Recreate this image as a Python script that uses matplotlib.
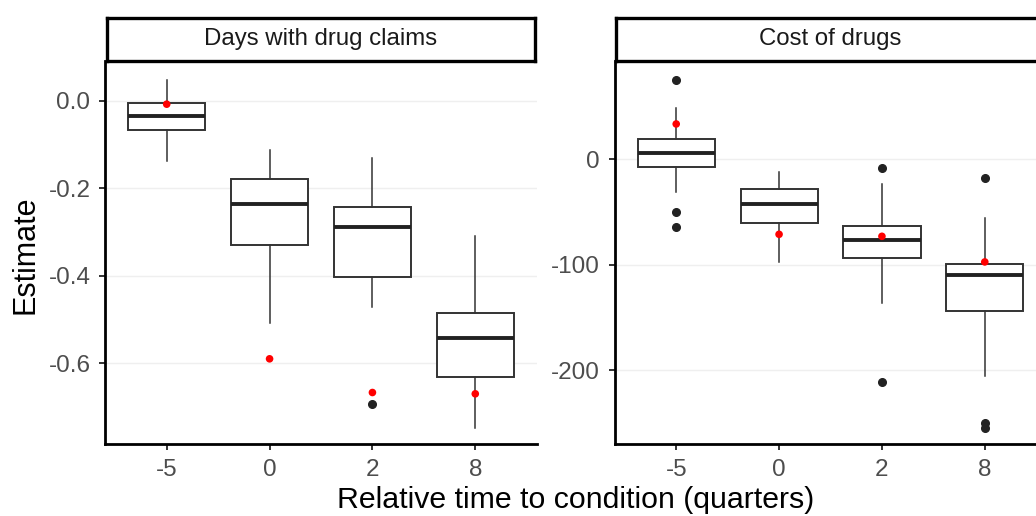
import matplotlib
matplotlib.use("Agg")
import matplotlib.pyplot as plt

plt.rcParams['font.family'] = ['Liberation Sans', 'DejaVu Sans']

categories = ["-5", "0", "2", "8"]

# Panel 1: Days with drug claims
days_whislo = [-0.139, -0.507, -0.471, -0.747]
days_q1 = [-0.068, -0.330, -0.404, -0.631]
days_med = [-0.036, -0.236, -0.289, -0.543]
days_q3 = [-0.005, -0.179, -0.243, -0.486]
days_whishi = [0.047, -0.113, -0.130, -0.309]
days_outliers = [[], [], [-0.693], []]
days_red = [-0.008, -0.590, -0.667, -0.670]

# Panel 2: Cost of drugs
cost_whislo = [-31.0, -97.0, -135.9, -205.1]
cost_q1 = [-7.3, -60.1, -93.6, -144.1]
cost_med = [5.7, -42.7, -76.5, -109.7]
cost_q3 = [19.0, -28.4, -63.5, -99.5]
cost_whishi = [48.3, -12.3, -23.1, -55.9]
cost_outliers = [[75.2, -50.0, -64.5], [], [-8.5, -211.1], [-17.4, -250.2, -255.0]]
cost_red = [33.5, -71.1, -73.0, -97.3]

W, H = 1036, 516
fig = plt.figure(figsize=(W / 100, H / 100), dpi=100)

def px_axes(x0, y0, x1, y1):
    return [x0 / W, 1 - y1 / H, (x1 - x0) / W, (y1 - y0) / H]

panels = [
    dict(title="Days with drug claims", rect=(105, 61, 537, 444), ylim=(-0.7847, 0.0907),
         yticks=[0.0, -0.2, -0.4, -0.6], fmt="{:.1f}",
         lo=days_whislo, q1=days_q1, med=days_med, q3=days_q3, hi=days_whishi,
         out=days_outliers, red=days_red),
    dict(title="Cost of drugs", rect=(614.5, 61, 1046.5, 444), ylim=(-269.9, 93.2),
         yticks=[0, -100, -200], fmt="{:.0f}",
         lo=cost_whislo, q1=cost_q1, med=cost_med, q3=cost_q3, hi=cost_whishi,
         out=cost_outliers, red=cost_red),
]

positions = list(range(1, len(categories) + 1))
box_col = "#333333"

for p in panels:
    x0, y0, x1, y1 = p["rect"]
    ax = fig.add_axes(px_axes(x0, y0, x1, y1))
    stats = []
    for i in range(len(categories)):
        stats.append(dict(whislo=p["lo"][i], q1=p["q1"][i], med=p["med"][i],
                          q3=p["q3"][i], whishi=p["hi"][i], fliers=p["out"][i]))
    ax.bxp(stats, positions=positions, widths=0.75, showcaps=False, showfliers=True,
           patch_artist=True,
           boxprops=dict(facecolor="white", edgecolor=box_col, linewidth=1.4),
           whiskerprops=dict(color=box_col, linewidth=1.1),
           medianprops=dict(color="#222222", linewidth=2.8),
           flierprops=dict(marker="o", markerfacecolor="#222222", markeredgecolor="#222222",
                           markersize=5.5, linestyle="none"),
           zorder=2)
    ax.scatter(positions, p["red"], s=30, color="#FF0000", edgecolors="none", zorder=5)
    ax.set_xlim(0.4, len(categories) + 0.6)
    ax.set_ylim(*p["ylim"])
    ax.set_xticks(positions)
    ax.set_xticklabels(categories)
    ax.set_yticks(p["yticks"])
    ax.set_yticklabels([p["fmt"].format(v) for v in p["yticks"]])
    ax.grid(axis="y", color="#EFEFEF", linewidth=1.0, zorder=0)
    ax.set_axisbelow(True)
    for s in ["top", "right"]:
        ax.spines[s].set_visible(False)
    for s in ["left", "bottom"]:
        ax.spines[s].set_linewidth(2.0)
        ax.spines[s].set_color("black")
    ax.tick_params(axis="both", length=4, width=1.4, color=box_col, labelcolor="#4D4D4D",
                   labelsize=17.5, pad=6.5)
    # strip
    sx = fig.add_axes(px_axes(x0 + 1.5, 17.5, x1 - 2, 60.5))
    sx.set_xticks([]); sx.set_yticks([])
    for s in sx.spines.values():
        s.set_linewidth(2.4)
        s.set_color("black")
    sx.set_facecolor("white")
    sx.text(0.5, 0.5, p["title"], ha="center", va="center", fontsize=17.3,
            color="#1A1A1A", transform=sx.transAxes)

fig.text(575.5 / W, 1 - 500 / H, "Relative time to condition (quarters)", ha="center",
         va="center", fontsize=21.8, color="black")
fig.text(25 / W, 1 - 255 / H, "Estimate", ha="center", va="center", rotation=90,
         fontsize=22, color="black")

fig.savefig("out.png", dpi=100, facecolor="white")
